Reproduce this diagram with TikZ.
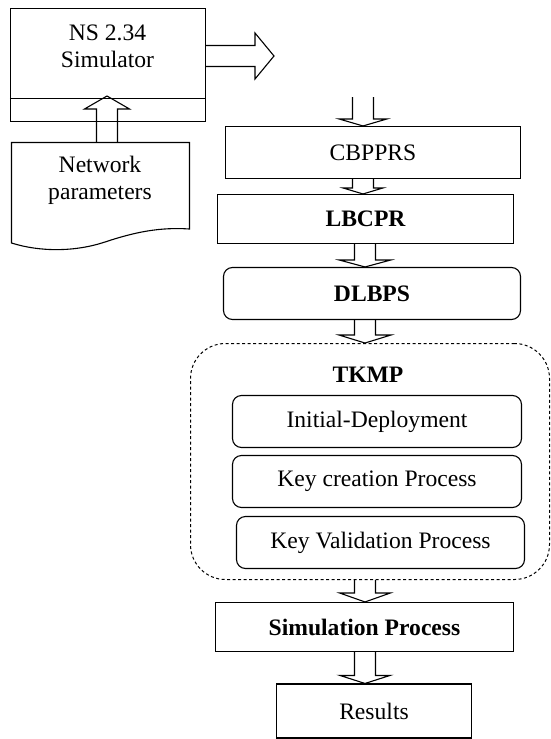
\documentclass[tikz,border=0pt]{standalone}
\usepackage{fontspec}
\setmainfont{Liberation Serif}
\usetikzlibrary{calc}

\def\shaft{10.5pt}
\def\mainfont{\fontsize{23.6}{27}\selectfont}
% hollow block arrow: start, end, head length, head half width
\newcommand\fatarrow[4]{%
  \coordinate (fa-s) at (#1);
  \coordinate (fa-e) at (#2);
  \coordinate (fa-h) at ($(fa-e)!#3!(fa-s)$);
  \draw ($(fa-s)!\shaft!90:(fa-e)$) -- ($(fa-h)!\shaft!-90:(fa-s)$)
    -- ($(fa-h)!#4!-90:(fa-s)$) -- (fa-e) -- ($(fa-h)!#4!90:(fa-s)$)
    -- ($(fa-h)!\shaft!90:(fa-s)$) -- ($(fa-s)!\shaft!-90:(fa-e)$);
}

\tikzset{
  box/.style={draw, minimum height=52pt, inner sep=0pt},
  rbox/.style={box, rounded corners=9pt},
  bold/.style={font=\mainfont\bfseries},
  groupbox/.style={draw, line width=1pt, dash pattern=on 3pt off 2.5pt, rounded corners=35pt, minimum width=359pt, minimum height=236pt}
}

\begin{document}
\begin{tikzpicture}[x=1pt, y=-1pt, line width=1.1pt, font=\mainfont]
  \useasboundingbox (0,0) rectangle (551,739);

  \node[box, minimum width=195pt, minimum height=113pt] (sim) at (108,65) {};
  \draw (sim.west |- 0,98.5) -- (sim.east |- 0,98.5);
  \node[align=center] (simtxt) at (107.5,46.5) {NS 2.34\\Simulator};

  \draw (11.5,142.5) -- (189.5,142.5) -- (189.5,229) .. controls (160,227) and (135,232) .. (105,242)
    .. controls (75,252) and (40,252) .. (11.5,243) -- cycle;
  \node[align=center] (params) at (100,180) {Network\\parameters};

  \node[box, minimum width=295pt] (cbpprs) at (373,152.5) {CBPPRS};
  \node[box, bold, minimum width=296pt, minimum height=49pt] (lbcpr) at (365.5,219) {LBCPR};
  \node[rbox, bold, minimum width=297pt] (dlbps) at (372,293.5) {DLBPS};

  \node[groupbox] (tkmp) at (370,461.5) {};
  \node[bold] (tkmptxt) at (368,375) {TKMP};
  \node[rbox, minimum width=289pt] (init) at (377,421.5) {Initial-Deployment};
  \node[rbox, minimum width=289pt] (keyc) at (377,481.5) {Key creation Process};
  \node[rbox, minimum width=288pt] (keyv) at (380.5,542.5) {Key Validation Process};

  \node[box, bold, minimum width=298pt, minimum height=49pt] (simp) at (364.5,627) {Simulation Process};
  \node[box, minimum width=195pt, minimum height=54pt] (res) at (374,711) {Results};

  \coordinate (ax) at (365,0);
  \coordinate (simout) at (205.5,56);
  \coordinate (fwd) at (274,56);
  \coordinate (ptop) at (107,142.5);
  \coordinate (simin) at (107,96);
  \coordinate (cin) at (363,97);

  \fatarrow{simout}{fwd}{19pt}{23pt}
  \fatarrow{ptop}{simin}{13pt}{22.5pt}
  \fatarrow{cin}{cbpprs.north -| cin}{7pt}{24pt}
  \fatarrow{cbpprs.south -| cin}{lbcpr.north -| cin}{6pt}{20pt}
  \fatarrow{lbcpr.south -| ax}{dlbps.north -| ax}{7pt}{26pt}
  \fatarrow{dlbps.south -| ax}{tkmp.north -| ax}{8pt}{26pt}
  \fatarrow{tkmp.south -| ax}{simp.north -| ax}{9pt}{25.5pt}
  \fatarrow{simp.south -| ax}{res.north -| ax}{8pt}{25pt}
\end{tikzpicture}
\end{document}
